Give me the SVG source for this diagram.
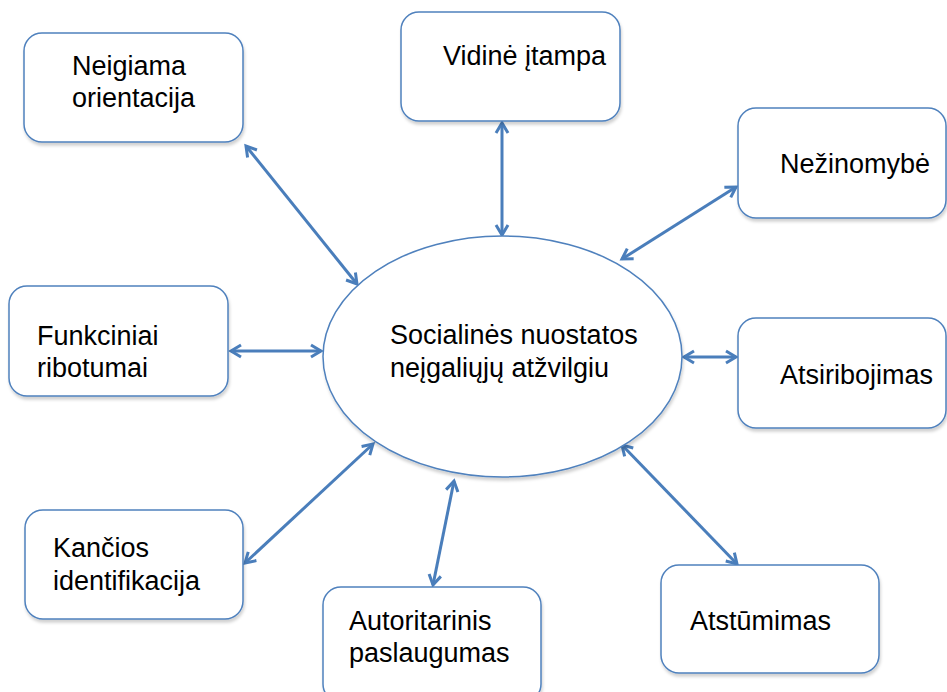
<svg xmlns="http://www.w3.org/2000/svg" width="947" height="692" viewBox="0 0 947 692">
  <style>
    .box { fill: #ffffff; stroke: #4f81bd; stroke-width: 1.5; filter: url(#shadow); }
    .hub { fill: #ffffff; stroke: #4f81bd; stroke-width: 1.5; filter: url(#shadow); }
    .lbl { font-family: "Liberation Sans", Arial, sans-serif; font-size: 27px; fill: #000000; }
    .link { stroke: #4a7ebb; stroke-width: 3; fill: none; marker-start: url(#head); marker-end: url(#head); }
  </style>
  <defs>
    <filter id="shadow" x="-10%" y="-10%" width="120%" height="130%">
      <feDropShadow dx="1" dy="3" stdDeviation="1.5" flood-color="#000000" flood-opacity="0.18"/>
    </filter>
    <marker id="head" markerUnits="userSpaceOnUse" markerWidth="16" markerHeight="16" viewBox="0 0 16 16" refX="12.5" refY="8" orient="auto-start-reverse">
      <path d="M2.5,2 L12.5,8 L2.5,14" fill="none" stroke="#4a7ebb" stroke-width="3" stroke-linejoin="miter"/>
    </marker>
  </defs>

  <rect width="947" height="692" fill="#ffffff"/>

  <!-- connectors -->
  <g id="connectors">
    <line class="link" x1="246" y1="146" x2="357" y2="284"/>
    <line class="link" x1="502" y1="123" x2="502" y2="235"/>
    <line class="link" x1="736" y1="187" x2="622" y2="259"/>
    <line class="link" x1="231" y1="351" x2="321" y2="351"/>
    <line class="link" x1="684" y1="357" x2="736" y2="357"/>
    <line class="link" x1="245" y1="563" x2="373" y2="444"/>
    <line class="link" x1="454" y1="481" x2="433" y2="585"/>
    <line class="link" x1="622" y1="445" x2="737" y2="564"/>
  </g>

  <!-- central node -->
  <g id="hub">
    <ellipse class="hub" cx="502.5" cy="356.5" rx="179.5" ry="120.5"/>
    <text class="lbl" x="390" y="344">Socialinės nuostatos</text>
    <text class="lbl" x="390" y="377">neįgaliųjų atžvilgiu</text>
  </g>

  <g id="neigiama">
    <rect class="box" x="24" y="33" width="219" height="109" rx="18"/>
    <text class="lbl" x="72" y="75">Neigiama</text>
    <text class="lbl" x="72" y="107">orientacija</text>
  </g>

  <g id="vidine">
    <rect class="box" x="401" y="12" width="219" height="109" rx="18"/>
    <text class="lbl" x="443" y="65">Vidinė įtampa</text>
  </g>

  <g id="nezinomybe">
    <rect class="box" x="738" y="108" width="208" height="110" rx="18"/>
    <text class="lbl" x="780" y="173">Nežinomybė</text>
  </g>

  <g id="funkciniai">
    <rect class="box" x="9" y="286" width="219" height="110" rx="18"/>
    <text class="lbl" x="37" y="345">Funkciniai</text>
    <text class="lbl" x="37" y="377">ribotumai</text>
  </g>

  <g id="atsiribojimas">
    <rect class="box" x="738" y="318" width="208" height="110" rx="18"/>
    <text class="lbl" x="780" y="384">Atsiribojimas</text>
  </g>

  <g id="kancios">
    <rect class="box" x="25" y="510" width="218" height="109" rx="18"/>
    <text class="lbl" x="53" y="557">Kančios</text>
    <text class="lbl" x="53" y="590">identifikacija</text>
  </g>

  <g id="autoritarinis">
    <rect class="box" x="323" y="587" width="218" height="115" rx="18"/>
    <text class="lbl" x="349" y="630">Autoritarinis</text>
    <text class="lbl" x="349" y="662">paslaugumas</text>
  </g>

  <g id="atstumimas">
    <rect class="box" x="661" y="565" width="218" height="108" rx="18"/>
    <text class="lbl" x="690" y="630">Atstūmimas</text>
  </g>
</svg>
